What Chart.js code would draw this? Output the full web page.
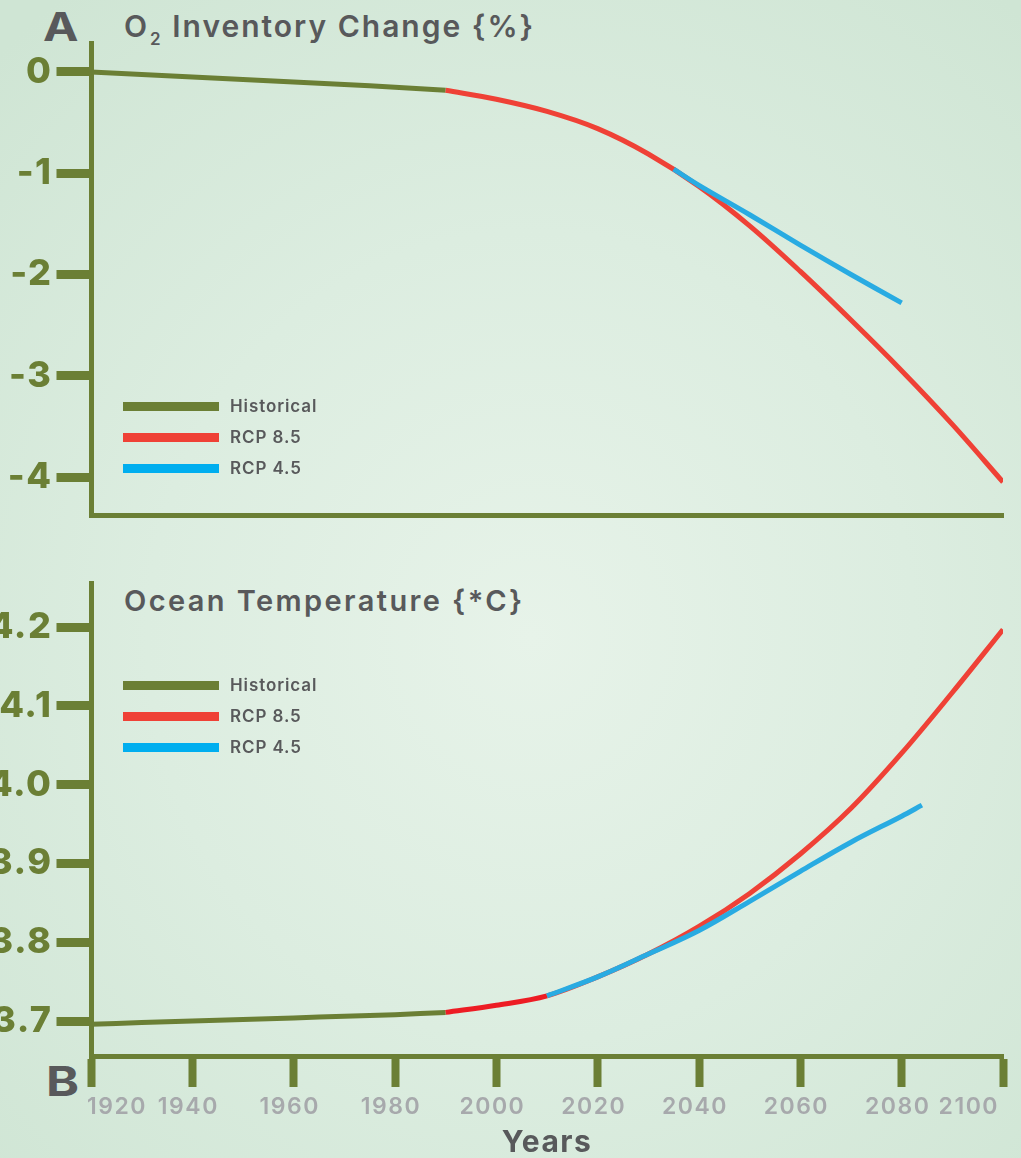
<!DOCTYPE html>
<html>
<head>
<meta charset="utf-8">
<title>O2 Inventory Change and Ocean Temperature</title>
<script src="https://cdn.jsdelivr.net/npm/chart.js@4.4.0/dist/chart.umd.min.js"></script>
<style>
  html, body { margin: 0; padding: 0; }
  body {
    width: 1021px;
    height: 1158px;
    overflow: hidden;
    position: relative;
    font-family: Inter, "Open Sans", sans-serif;
    background: radial-gradient(ellipse 75% 70% at 52% 55%, #e7f3e9 0%, #dcede0 50%, #cfe5d4 100%);
  }
  .panel { position: absolute; left: 0; width: 1021px; }
  #panelA { top: 0; height: 540px; }
  #panelB { top: 560px; height: 598px; }
  .letter { position: absolute; font-weight: 700; color: #58595b; line-height: 1; transform: scaleX(1.22); transform-origin: left; }
  .title { position: absolute; left: 124px; font-weight: 600; color: #58595b; line-height: 1; white-space: nowrap; letter-spacing: 2px; }
  .title .sub { font-size: 17px; position: relative; top: 8px; margin-left: 1px; }
  .legend { position: absolute; left: 123px; }
  .legend .row { position: relative; height: 31px; }
  .legend .sw { position: absolute; left: 0; top: 11px; width: 96px; height: 9px; }
  .legend .lbl { position: absolute; left: 107px; top: 0; line-height: 31px; font-size: 17px; font-weight: 600; color: #58595b; white-space: nowrap; letter-spacing: 0.9px; }
</style>
</head>
<body>

<div class="letter" style="left:43px; top:7px; font-size:39px;">A</div>
<div class="title" style="top:11px; font-size:30px;">O<span class="sub">2</span> Inventory Change {%}</div>

<div class="letter" style="left:46px; top:1061px; font-size:41px;">B</div>
<div class="title" style="top:586px; font-size:29px; letter-spacing:2.4px;">Ocean Temperature {*C}</div>

<div class="panel" id="panelA"><canvas id="o2Chart" width="1021" height="540"></canvas></div>
<div class="panel" id="panelB"><canvas id="tempChart" width="1021" height="598"></canvas></div>

<div class="legend" style="top:391px;">
  <div class="row"><span class="sw" style="background:#6b7f35"></span><span class="lbl">Historical</span></div>
  <div class="row"><span class="sw" style="background:#ef4136"></span><span class="lbl">RCP 8.5</span></div>
  <div class="row"><span class="sw" style="background:#00aeef"></span><span class="lbl">RCP 4.5</span></div>
</div>

<div class="legend" style="top:670px;">
  <div class="row"><span class="sw" style="background:#6b7f35"></span><span class="lbl">Historical</span></div>
  <div class="row"><span class="sw" style="background:#ef4136"></span><span class="lbl">RCP 8.5</span></div>
  <div class="row"><span class="sw" style="background:#00aeef"></span><span class="lbl">RCP 4.5</span></div>
</div>

<script>
// Data
const histYears = [1920, 1930, 1940, 1950, 1960, 1970, 1980, 1990];
const rcp85Years = [1990, 2000, 2010, 2020, 2030, 2040, 2050, 2060, 2070, 2080, 2090, 2100];
const o2Rcp45Years = [2035, 2040, 2050, 2060, 2070, 2080];
const tempRcp45Years = [2010, 2020, 2030, 2040, 2050, 2060, 2070, 2080, 2084];

// Panel A: O2 inventory change (%)
const o2Hist = [0, -0.025, -0.05, -0.075, -0.10, -0.125, -0.15, -0.18];
const o2Rcp85 = [-0.18, -0.27, -0.39, -0.56, -0.81, -1.13, -1.52, -1.97, -2.45, -2.95, -3.48, -4.05];
const o2Rcp45 = [-0.96, -1.12, -1.41, -1.71, -2.00, -2.28];

// Panel B: ocean temperature (*C)
const tempHist = [3.696, 3.698, 3.700, 3.702, 3.704, 3.706, 3.708, 3.711];
const tempRcp85 = [3.711, 3.720, 3.732, 3.756, 3.785, 3.820, 3.862, 3.912, 3.970, 4.040, 4.117, 4.197];
const tempRcp45 = [3.732, 3.756, 3.785, 3.815, 3.852, 3.890, 3.927, 3.960, 3.974];

// Axis ticks
const yearTicks = [1920, 1940, 1960, 1980, 2000, 2020, 2040, 2060, 2080, 2100];
const o2Ticks = [0, -1, -2, -3, -4];
const tempTicks = [3.7, 3.8, 3.9, 4.0, 4.1, 4.2];

const olive = "#6b7f35";
const red = "#ef4136";
const blue = "#29abe2";

Chart.defaults.font.family = "Inter, 'Open Sans', sans-serif";

function pairs(xs, ys) {
  return xs.map((x, i) => ({ x: x, y: ys[i] }));
}

function noPadding(scale) {
  scale.paddingLeft = 0;
  scale.paddingRight = 0;
  scale.paddingTop = 0;
  scale.paddingBottom = 0;
}

// the original lettering is wider than Inter, so space it out a little
const wideText = {
  id: "wideText",
  beforeDraw(chart) {
    chart.ctx.letterSpacing = "1.5px";
  },
};

const lineDefaults = {
  point: { radius: 0, hoverRadius: 0 },
  line: { borderWidth: 5, tension: 0.35, fill: false },
};

const yTickFont = { size: 36, weight: "800" };

// Panel A chart
const o2Chart = new Chart(document.getElementById("o2Chart"), {
  type: "line",
  data: {
    datasets: [
      { label: "RCP 4.5", data: pairs(o2Rcp45Years, o2Rcp45), borderColor: blue, order: 0 },
      { label: "RCP 8.5", data: pairs(rcp85Years, o2Rcp85), borderColor: red, order: 1 },
      { label: "Historical", data: pairs(histYears, o2Hist), borderColor: olive, order: 2 },
    ],
  },
  plugins: [wideText],
  options: {
    responsive: false,
    animation: false,
    layout: { padding: { top: 43, right: 18, left: 0, bottom: 0 } },
    elements: lineDefaults,
    plugins: { legend: { display: false }, tooltip: { enabled: false } },
    scales: {
      x: {
        type: "linear",
        min: 1920,
        max: 2100,
        ticks: { display: false },
        grid: { drawOnChartArea: false, drawTicks: false },
        border: { display: true, color: olive, width: 5 },
        afterFit: (s) => { noPadding(s); s.height = 24.5; },
      },
      y: {
        min: -4.38,
        max: 0.286,
        afterBuildTicks: (s) => { s.ticks = o2Ticks.map((v) => ({ value: v })); },
        ticks: {
          color: olive,
          padding: 4,
          font: yTickFont,
          callback: (v) => String(v),
        },
        grid: { drawOnChartArea: false, tickLength: 34.5, tickWidth: 9, tickColor: olive, lineWidth: 1, color: olive },
        border: { display: true, color: olive, width: 5 },
        afterFit: (s) => { noPadding(s); s.width = 91; },
      },
    },
  },
});

// Panel B chart
const tempChart = new Chart(document.getElementById("tempChart"), {
  type: "line",
  data: {
    datasets: [
      { label: "RCP 4.5", data: pairs(tempRcp45Years, tempRcp45), borderColor: blue, order: 0 },
      {
        label: "RCP 8.5",
        data: pairs(rcp85Years, tempRcp85),
        borderColor: red,
        order: 1,
        segment: { borderColor: (ctx) => (ctx.p1.parsed.x <= 2010 ? "#ed1c24" : undefined) },
      },
      { label: "Historical", data: pairs(histYears, tempHist), borderColor: olive, order: 2 },
    ],
  },
  plugins: [wideText],
  options: {
    responsive: false,
    animation: false,
    layout: { padding: { top: 23, right: 18, left: 0, bottom: 0 } },
    elements: lineDefaults,
    plugins: { legend: { display: false }, tooltip: { enabled: false } },
    scales: {
      x: {
        type: "linear",
        min: 1920,
        max: 2100,
        afterBuildTicks: (s) => { s.ticks = yearTicks.map((v) => ({ value: v })); },
        ticks: {
          color: "#a7a9ac",
          padding: 6,
          maxRotation: 0,
          autoSkip: false,
          align: "inner",
          labelOffset: -4,
          font: { size: 23, weight: "600" },
          callback: (v) => String(v),
        },
        grid: { drawOnChartArea: false, tickLength: 30.5, tickWidth: 8, tickColor: olive, lineWidth: 1, color: olive },
        border: { display: true, color: olive, width: 5 },
        title: {
          display: true,
          text: "Years",
          color: "#58595b",
          font: { size: 30, weight: "bold", lineHeight: 1 },
          padding: { top: 0, bottom: 0 },
        },
        afterFit: (s) => { noPadding(s); s.height = 101.5; },
      },
      y: {
        min: 3.655,
        max: 4.256,
        afterBuildTicks: (s) => { s.ticks = tempTicks.map((v) => ({ value: v })); },
        ticks: {
          color: olive,
          padding: 4,
          font: yTickFont,
          callback: (v) => v.toFixed(1),
        },
        grid: { drawOnChartArea: false, tickLength: 34.5, tickWidth: 9, tickColor: olive, lineWidth: 1, color: olive },
        border: { display: true, color: olive, width: 5 },
        afterFit: (s) => { noPadding(s); s.width = 91; },
      },
    },
  },
});
</script>
</body>
</html>
